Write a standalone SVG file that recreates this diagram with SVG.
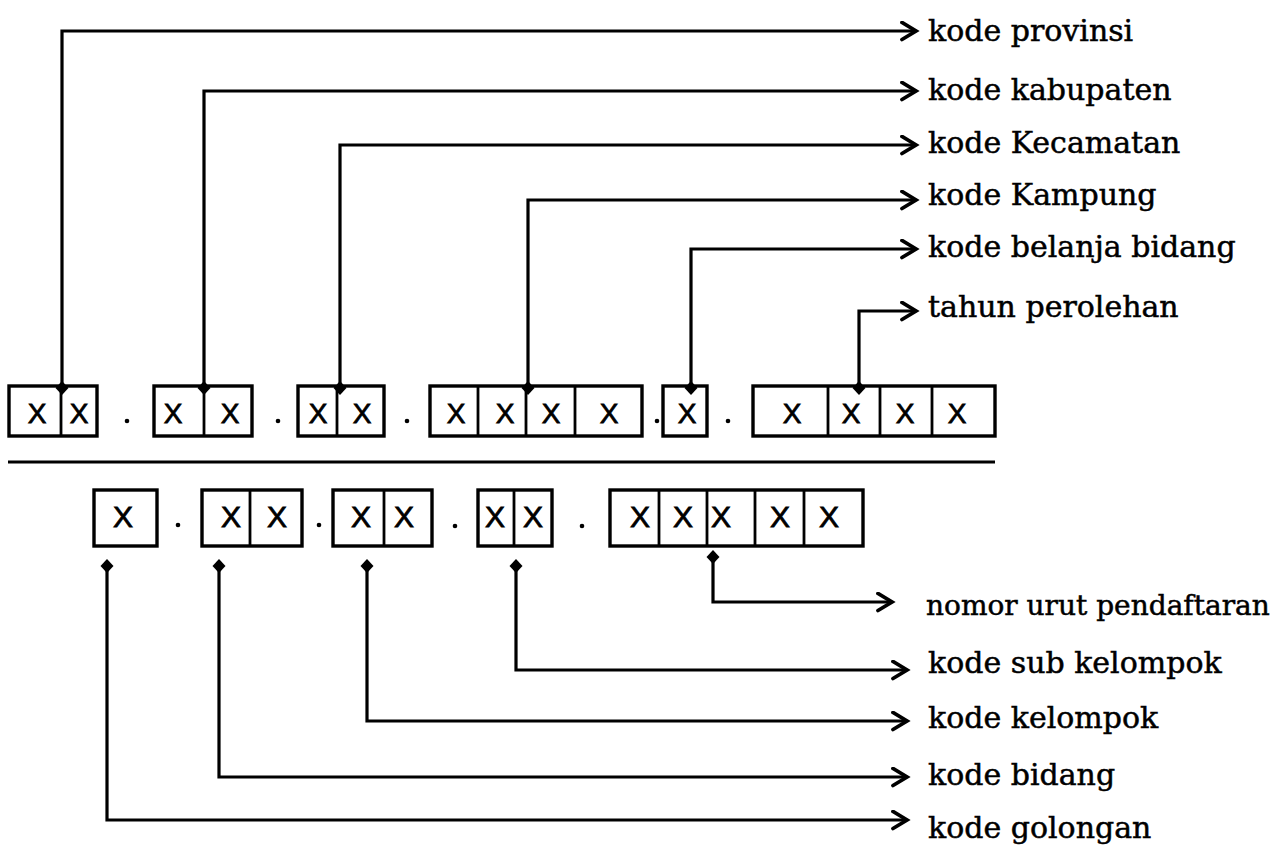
<svg xmlns="http://www.w3.org/2000/svg" width="1286" height="848" viewBox="0 0 1286 848">
<style>
.box{fill:none;stroke:#000;stroke-width:3.4}
.div{stroke:#000;stroke-width:2.8}
.x{font-family:"Liberation Sans",Arial,sans-serif;font-size:28px;fill:#000;stroke:#000;stroke-width:0.8;text-anchor:middle}
.xb{font-size:30px}
.lbl{font-family:"DejaVu Serif","Liberation Serif",serif;font-size:30px;fill:#000;stroke:#000;stroke-width:0.5}
.sm{font-size:28px}
.con{fill:none;stroke:#000;stroke-width:3.2;marker-end:url(#arr)}
.dot{fill:#000}
</style>
<defs>
<marker id="arr" markerUnits="userSpaceOnUse" markerWidth="22" markerHeight="24" refX="16" refY="10" orient="auto" viewBox="0 0 22 24">
<path d="M2,1.5 L16,10 L2,18.5" fill="none" stroke="#000" stroke-width="3.8" stroke-linecap="round" stroke-linejoin="miter"/>
</marker>
<path id="dm" d="M0,-7 L6.5,0 L0,7 L-6.5,0 Z" fill="#000"/>
</defs>
<rect width="1286" height="848" fill="#fff"/>

<g id="connectors">
<path class="con" d="M62,388 V31 H916"/>
<path class="con" d="M204,388 V91 H916"/>
<path class="con" d="M340,388 V145 H916"/>
<path class="con" d="M528,388 V200 H916"/>
<path class="con" d="M691,388 V249 H916"/>
<path class="con" d="M859,388 V311 H916"/>
<use href="#dm" x="62" y="388"/>
<use href="#dm" x="204" y="388"/>
<use href="#dm" x="340" y="388"/>
<use href="#dm" x="528" y="388"/>
<use href="#dm" x="691" y="388"/>
<use href="#dm" x="859" y="388"/>

<path class="con" d="M713,557 V602 H892"/>
<path class="con" d="M516,566 V670 H907"/>
<path class="con" d="M367,566 V721 H907"/>
<path class="con" d="M219,566 V777 H907"/>
<path class="con" d="M107,566 V820 H907"/>
<use href="#dm" x="713" y="557"/>
<use href="#dm" x="516" y="566"/>
<use href="#dm" x="367" y="566"/>
<use href="#dm" x="219" y="566"/>
<use href="#dm" x="107" y="566"/>
</g>

<g id="top-code">
<g id="t-box1">
<rect class="box" x="9" y="386" width="88" height="50"/>
<line class="div" x1="61" y1="386" x2="61" y2="436"/>
<text class="x" x="37" y="423">X</text><text class="x" x="79" y="423">X</text>
</g>
<circle class="dot" cx="127" cy="421" r="2.3"/>
<g id="t-box2">
<rect class="box" x="154" y="386" width="98" height="50"/>
<line class="div" x1="204" y1="386" x2="204" y2="436"/>
<text class="x" x="173" y="423">X</text><text class="x" x="230" y="423">X</text>
</g>
<circle class="dot" cx="278" cy="421" r="2.3"/>
<g id="t-box3">
<rect class="box" x="298" y="386" width="86" height="50"/>
<line class="div" x1="337" y1="386" x2="337" y2="436"/>
<text class="x" x="318" y="423">X</text><text class="x" x="362" y="423">X</text>
</g>
<circle class="dot" cx="407" cy="421" r="2.3"/>
<g id="t-box4">
<rect class="box" x="430" y="386" width="212" height="50"/>
<line class="div" x1="478" y1="386" x2="478" y2="436"/>
<line class="div" x1="526" y1="386" x2="526" y2="436"/>
<line class="div" x1="575" y1="386" x2="575" y2="436"/>
<text class="x" x="456" y="423">X</text><text class="x" x="505" y="423">X</text><text class="x" x="551" y="423">X</text><text class="x" x="609" y="423">X</text>
</g>
<circle class="dot" cx="657" cy="421" r="2.3"/>
<g id="t-box5">
<rect class="box" x="663" y="386" width="44" height="50"/>
<text class="x" x="687" y="423">X</text>
</g>
<circle class="dot" cx="728" cy="421" r="2.3"/>
<g id="t-box6">
<rect class="box" x="753" y="386" width="242" height="50"/>
<line class="div" x1="828" y1="386" x2="828" y2="436"/>
<line class="div" x1="880" y1="386" x2="880" y2="436"/>
<line class="div" x1="932" y1="386" x2="932" y2="436"/>
<text class="x" x="792" y="423">X</text><text class="x" x="851" y="423">X</text><text class="x" x="905" y="423">X</text><text class="x" x="957" y="423">X</text>
</g>
</g>

<line id="separator" x1="8" y1="462" x2="995" y2="462" stroke="#000" stroke-width="2.8"/>

<g id="bottom-code">
<g id="b-box1">
<rect class="box" x="94" y="490" width="63" height="56"/>
<text class="x xb" x="123" y="527">X</text>
</g>
<circle class="dot" cx="178" cy="525" r="2.3"/>
<g id="b-box2">
<rect class="box" x="202" y="490" width="100" height="56"/>
<line class="div" x1="250" y1="490" x2="250" y2="546"/>
<text class="x xb" x="231" y="527">X</text><text class="x xb" x="277" y="527">X</text>
</g>
<circle class="dot" cx="319" cy="525" r="2.3"/>
<g id="b-box3">
<rect class="box" x="333" y="490" width="99" height="56"/>
<line class="div" x1="384" y1="490" x2="384" y2="546"/>
<text class="x xb" x="361" y="527">X</text><text class="x xb" x="404" y="527">X</text>
</g>
<circle class="dot" cx="455" cy="526" r="2.3"/>
<g id="b-box4">
<rect class="box" x="478" y="490" width="74" height="56"/>
<line class="div" x1="514" y1="490" x2="514" y2="546"/>
<text class="x xb" x="495" y="527">X</text><text class="x xb" x="533" y="527">X</text>
</g>
<circle class="dot" cx="582" cy="526" r="2.3"/>
<g id="b-box5">
<rect class="box" x="610" y="490" width="253" height="56"/>
<line class="div" x1="659" y1="490" x2="659" y2="546"/>
<line class="div" x1="707" y1="490" x2="707" y2="546"/>
<line class="div" x1="755" y1="490" x2="755" y2="546"/>
<line class="div" x1="804" y1="490" x2="804" y2="546"/>
<text class="x xb" x="640" y="527">X</text><text class="x xb" x="683" y="527">X</text><text class="x xb" x="721" y="527">X</text><text class="x xb" x="780" y="527">X</text><text class="x xb" x="829" y="527">X</text>
</g>
</g>

<g id="labels-top">
<text id="l-provinsi" class="lbl" x="928" y="41">kode provinsi</text>
<text id="l-kabupaten" class="lbl" x="928" y="100">kode kabupaten</text>
<text id="l-kecamatan" class="lbl" x="928" y="153">kode Kecamatan</text>
<text id="l-kampung" class="lbl" x="928" y="205">kode Kampung</text>
<text id="l-belanja" class="lbl" x="928" y="257">kode belanja bidang</text>
<text id="l-tahun" class="lbl" x="928" y="317">tahun perolehan</text>
</g>
<g id="labels-bottom">
<text id="l-nomor" class="lbl sm" x="926" y="615">nomor urut pendaftaran</text>
<text id="l-subkelompok" class="lbl" x="928" y="673">kode sub kelompok</text>
<text id="l-kelompok" class="lbl" x="928" y="728">kode kelompok</text>
<text id="l-bidang" class="lbl" x="928" y="785">kode bidang</text>
<text id="l-golongan" class="lbl" x="928" y="838">kode golongan</text>
</g>
</svg>
